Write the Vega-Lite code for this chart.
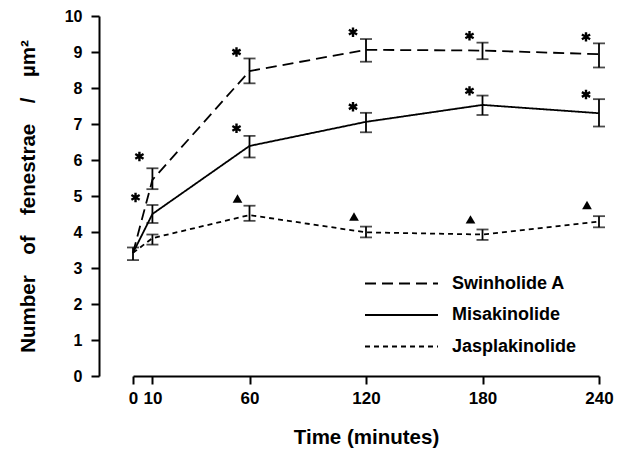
{
  "$schema": "https://vega.github.io/schema/vega-lite/v6.json",
  "width": 466,
  "height": 360,
  "autosize": {"type": "none"},
  "padding": {"left": 133, "top": 16, "right": 32, "bottom": 80},
  "background": "white",
  "config": {
    "view": {"stroke": null},
    "axis": {
      "grid": false,
      "domainColor": "black",
      "domainWidth": 2,
      "tickColor": "black",
      "tickWidth": 2,
      "tickSize": 8,
      "labelColor": "black",
      "labelFont": "Liberation Sans",
      "labelFontSize": 17,
      "labelFontWeight": "bold",
      "labelOverlap": false,
      "labelFlush": false,
      "titleColor": "black",
      "titleFont": "Liberation Sans",
      "titleFontSize": 20.5,
      "titleFontWeight": "bold"
    },
    "axisY": {"labelFontSize": 16}
  },
  "datasets": {
    "series": [
      {"series": "Swinholide A", "time": 0, "value": 3.42, "lo": 3.22, "hi": 3.57},
      {"series": "Swinholide A", "time": 10, "value": 5.45, "lo": 5.19, "hi": 5.77},
      {"series": "Swinholide A", "time": 60, "value": 8.47, "lo": 8.13, "hi": 8.82},
      {"series": "Swinholide A", "time": 120, "value": 9.06, "lo": 8.73, "hi": 9.36},
      {"series": "Swinholide A", "time": 180, "value": 9.04, "lo": 8.8, "hi": 9.26},
      {"series": "Swinholide A", "time": 240, "value": 8.94, "lo": 8.57, "hi": 9.24},
      {"series": "Misakinolide", "time": 0, "value": 3.42, "lo": null, "hi": null},
      {"series": "Misakinolide", "time": 10, "value": 4.5, "lo": 4.25, "hi": 4.75},
      {"series": "Misakinolide", "time": 60, "value": 6.39, "lo": 6.07, "hi": 6.67},
      {"series": "Misakinolide", "time": 120, "value": 7.06, "lo": 6.77, "hi": 7.31},
      {"series": "Misakinolide", "time": 180, "value": 7.53, "lo": 7.25, "hi": 7.79},
      {"series": "Misakinolide", "time": 240, "value": 7.3, "lo": 6.93, "hi": 7.69},
      {"series": "Jasplakinolide", "time": 0, "value": 3.42, "lo": null, "hi": null},
      {"series": "Jasplakinolide", "time": 10, "value": 3.83, "lo": 3.65, "hi": 3.93},
      {"series": "Jasplakinolide", "time": 60, "value": 4.47, "lo": 4.31, "hi": 4.73},
      {"series": "Jasplakinolide", "time": 120, "value": 3.99, "lo": 3.85, "hi": 4.15},
      {"series": "Jasplakinolide", "time": 180, "value": 3.93, "lo": 3.78, "hi": 4.07},
      {"series": "Jasplakinolide", "time": 240, "value": 4.29, "lo": 4.13, "hi": 4.44}
    ],
    "stars": [
      {"series": "Swinholide A", "time": 10, "y": 6.1},
      {"series": "Swinholide A", "time": 60, "y": 9.0},
      {"series": "Swinholide A", "time": 120, "y": 9.55},
      {"series": "Swinholide A", "time": 180, "y": 9.45},
      {"series": "Swinholide A", "time": 240, "y": 9.42},
      {"series": "Misakinolide", "time": 8, "y": 4.96},
      {"series": "Misakinolide", "time": 60, "y": 6.88},
      {"series": "Misakinolide", "time": 120, "y": 7.48},
      {"series": "Misakinolide", "time": 180, "y": 7.92},
      {"series": "Misakinolide", "time": 240, "y": 7.82}
    ],
    "triangles": [
      {"series": "Jasplakinolide", "time": 60, "y": 4.93},
      {"series": "Jasplakinolide", "time": 120, "y": 4.43},
      {"series": "Jasplakinolide", "time": 180, "y": 4.35},
      {"series": "Jasplakinolide", "time": 240, "y": 4.75}
    ]
  },
  "layer": [
    {
      "data": {"name": "series"},
      "mark": {"type": "line", "color": "black", "strokeWidth": 1.8},
      "encoding": {
        "x": {
          "field": "time",
          "type": "quantitative",
          "scale": {"domain": [0, 240], "nice": false},
          "axis": {
            "values": [0, 10, 60, 120, 180, 240],
            "title": "Time (minutes)",
            "labelPadding": 6,
            "titlePadding": 21
          }
        },
        "y": {
          "field": "value",
          "type": "quantitative",
          "scale": {"domain": [0, 10], "nice": false},
          "axis": {
            "values": [0, 1, 2, 3, 4, 5, 6, 7, 8, 9, 10],
            "offset": 34,
            "labelPadding": 9,
            "titlePadding": 26,
            "title": "Number\u2003of\u2003fenestrae\u2003/\u2003µm²"
          }
        },
        "strokeDash": {
          "field": "series",
          "type": "nominal",
          "scale": {
            "domain": ["Swinholide A", "Misakinolide", "Jasplakinolide"],
            "range": [[11, 6], [1, 0], [5, 4]]
          },
          "legend": {
            "title": null,
            "orient": "none",
            "legendX": 232,
            "legendY": 257,
            "symbolType": "M-4,0H4",
            "symbolSize": 333,
            "symbolOffset": 26,
            "symbolStrokeWidth": 1.8,
            "symbolStrokeColor": "black",
            "symbolFillColor": "transparent",
            "labelFont": "Liberation Sans",
            "labelFontSize": 18,
            "labelFontWeight": "bold",
            "labelColor": "black",
            "labelOffset": 40,
            "rowPadding": 11.5
          }
        }
      }
    },
    {
      "data": {"name": "series"},
      "transform": [{"filter": "isValid(datum.lo)"}],
      "mark": {
        "type": "errorbar",
        "color": "black",
        "ticks": {"size": 12, "thickness": 1.8, "color": "black"},
        "rule": {"strokeWidth": 1.8}
      },
      "encoding": {
        "x": {"field": "time", "type": "quantitative"},
        "y": {
          "field": "lo",
          "type": "quantitative",
          "axis": {
            "values": [0, 1, 2, 3, 4, 5, 6, 7, 8, 9, 10],
            "offset": 34,
            "labelPadding": 9,
            "titlePadding": 26,
            "title": "Number\u2003of\u2003fenestrae\u2003/\u2003µm²"
          }
        },
        "y2": {"field": "hi"}
      }
    },
    {
      "data": {"name": "stars"},
      "mark": {
        "type": "point",
        "shape": "M0,-1L0,1M-0.87,-0.5L0.87,0.5M-0.87,0.5L0.87,-0.5",
        "filled": false,
        "stroke": "black",
        "strokeWidth": 2.4,
        "size": 90,
        "opacity": 1,
        "xOffset": -13
      },
      "encoding": {
        "x": {"field": "time", "type": "quantitative"},
        "y": {
          "field": "y",
          "type": "quantitative",
          "axis": {
            "values": [0, 1, 2, 3, 4, 5, 6, 7, 8, 9, 10],
            "offset": 34,
            "labelPadding": 9,
            "titlePadding": 26,
            "title": "Number\u2003of\u2003fenestrae\u2003/\u2003µm²"
          }
        }
      }
    },
    {
      "data": {"name": "triangles"},
      "mark": {
        "type": "point",
        "shape": "triangle-up",
        "filled": true,
        "color": "black",
        "size": 95,
        "opacity": 1,
        "xOffset": -12
      },
      "encoding": {
        "x": {"field": "time", "type": "quantitative"},
        "y": {
          "field": "y",
          "type": "quantitative",
          "axis": {
            "values": [0, 1, 2, 3, 4, 5, 6, 7, 8, 9, 10],
            "offset": 34,
            "labelPadding": 9,
            "titlePadding": 26,
            "title": "Number\u2003of\u2003fenestrae\u2003/\u2003µm²"
          }
        }
      }
    }
  ]
}
